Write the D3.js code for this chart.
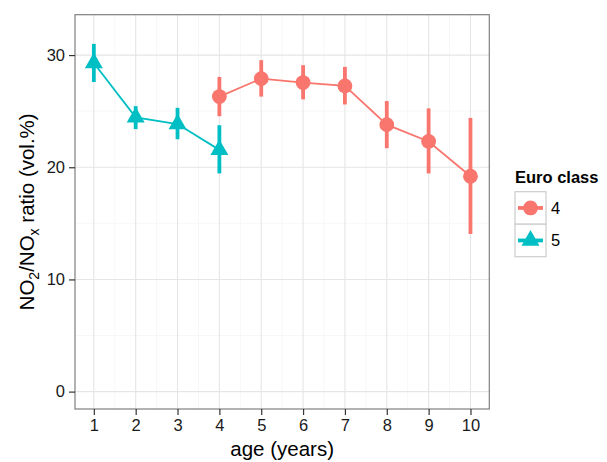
<!DOCTYPE html>
<html>
<head>
<meta charset="utf-8">
<script src="https://cdn.jsdelivr.net/npm/d3@7"></script>
<style>
  body { margin: 0; background: #fff; }
  text { font-family: "Liberation Sans", Arial, sans-serif; }
</style>
</head>
<body>
<svg width="607" height="462"></svg>
<script>
// Euro class 4 (circles)
var ages4 = [4, 5, 6, 7, 8, 9, 10];
var mean4 = [26.3, 27.9, 27.55, 27.25, 23.8, 22.3, 19.2];
var lo4 = [24.55, 26.3, 26.05, 25.6, 21.7, 19.45, 14.05];
var hi4 = [28.05, 29.55, 29.1, 28.95, 25.9, 25.25, 24.4];
// Euro class 5 (triangles)
var ages5 = [1, 2, 3, 4];
var mean5 = [29.3, 24.45, 23.85, 21.55];
var lo5 = [27.6, 23.4, 22.5, 19.45];
var hi5 = [31.0, 25.45, 25.3, 23.75];

var xTicks = [1, 2, 3, 4, 5, 6, 7, 8, 9, 10];
var yTicks = [0, 10, 20, 30];
var yMinor = [5, 15, 25];
var classes = ['4', '5'];
var colors = ['#F8766D', '#00BFC4'];

function makeSeries(ages, mean, lo, hi) {
  var out = [];
  for (var i = 0; i < ages.length; i++) {
    out.push({ age: ages[i], mean: mean[i], lo: lo[i], hi: hi[i] });
  }
  return out;
}
var series = [
  { name: '4', shape: 'circle', color: colors[0], data: makeSeries(ages4, mean4, lo4, hi4) },
  { name: '5', shape: 'triangle', color: colors[1], data: makeSeries(ages5, mean5, lo5, hi5) }
];

var pLeft = 75, pRight = 489.3, pTop = 14.7, pBottom = 409;
var svg = d3.select('svg');

var x = d3.scaleLinear().domain([0.55, 10.45]).range([pLeft, pRight]);
var y = d3.scaleLinear().domain([-1.55, 33.6]).range([pBottom, pTop]);

// panel background + grid
var grid = svg.append('g');
grid.append('rect')
  .attr('x', pLeft).attr('y', pTop)
  .attr('width', pRight - pLeft).attr('height', pBottom - pTop)
  .attr('fill', '#fff');

var xMinor = xTicks.slice(0, -1).map(function (d) { return d + 0.5; });
grid.selectAll('.xminor').data(xMinor).enter().append('line')
  .attr('x1', function (d) { return x(d); }).attr('x2', function (d) { return x(d); })
  .attr('y1', pTop).attr('y2', pBottom)
  .attr('stroke', '#f7f7f7').attr('stroke-width', 1);
grid.selectAll('.yminor').data(yMinor).enter().append('line')
  .attr('y1', function (d) { return y(d); }).attr('y2', function (d) { return y(d); })
  .attr('x1', pLeft).attr('x2', pRight)
  .attr('stroke', '#f7f7f7').attr('stroke-width', 1);
grid.selectAll('.xmajor').data(xTicks).enter().append('line')
  .attr('x1', function (d) { return x(d); }).attr('x2', function (d) { return x(d); })
  .attr('y1', pTop).attr('y2', pBottom)
  .attr('stroke', '#e5e5e5').attr('stroke-width', 1.1);
grid.selectAll('.ymajor').data(yTicks).enter().append('line')
  .attr('y1', function (d) { return y(d); }).attr('y2', function (d) { return y(d); })
  .attr('x1', pLeft).attr('x2', pRight)
  .attr('stroke', '#e5e5e5').attr('stroke-width', 1.1);

// data
var line = d3.line()
  .x(function (d) { return x(d.age); })
  .y(function (d) { return y(d.mean); });

function triPath(cx, cy, w) {
  var h = w * Math.sqrt(3) / 2;
  return 'M' + cx + ',' + (cy - 2 * h / 3) +
    'L' + (cx + w / 2) + ',' + (cy + h / 3) +
    'L' + (cx - w / 2) + ',' + (cy + h / 3) + 'Z';
}

series.forEach(function (s) {
  var g = svg.append('g');
  g.append('path')
    .datum(s.data)
    .attr('d', line)
    .attr('fill', 'none')
    .attr('stroke', s.color)
    .attr('stroke-width', 1.8);
  g.selectAll('.err').data(s.data).enter().append('line')
    .attr('x1', function (d) { return x(d.age); })
    .attr('x2', function (d) { return x(d.age); })
    .attr('y1', function (d) { return y(d.lo); })
    .attr('y2', function (d) { return y(d.hi); })
    .attr('stroke', s.color)
    .attr('stroke-width', 3.8);
  if (s.shape === 'circle') {
    g.selectAll('.pt').data(s.data).enter().append('circle')
      .attr('cx', function (d) { return x(d.age); })
      .attr('cy', function (d) { return y(d.mean); })
      .attr('r', 7.4)
      .attr('fill', s.color);
  } else {
    g.selectAll('.pt').data(s.data).enter().append('path')
      .attr('d', function (d) { return triPath(x(d.age), y(d.mean), 18); })
      .attr('fill', s.color);
  }
});

// panel border
svg.append('rect')
  .attr('x', pLeft).attr('y', pTop)
  .attr('width', pRight - pLeft).attr('height', pBottom - pTop)
  .attr('fill', 'none')
  .attr('stroke', '#7f7f7f')
  .attr('stroke-width', 1.2);

// axes
var xAxis = svg.append('g')
  .attr('transform', 'translate(0,' + pBottom + ')')
  .call(d3.axisBottom(x).tickValues(xTicks).tickSize(6).tickPadding(4).tickFormat(d3.format('d')));
var yAxis = svg.append('g')
  .attr('transform', 'translate(' + pLeft + ',0)')
  .call(d3.axisLeft(y).tickValues(yTicks).tickSize(6).tickPadding(4).tickFormat(d3.format('d')));
[xAxis, yAxis].forEach(function (a) {
  a.select('.domain').remove();
  a.selectAll('.tick line').attr('stroke', '#333').attr('stroke-width', 1.2);
  a.selectAll('.tick text')
    .attr('fill', '#1a1a1a')
    .style('font-size', '16.5px')
    .style('font-family', '"Liberation Sans", Arial, sans-serif');
});

// axis titles
svg.append('text')
  .attr('x', (pLeft + pRight) / 2)
  .attr('y', 456)
  .attr('text-anchor', 'middle')
  .style('font-size', '20.5px')
  .attr('fill', '#000')
  .text('age (years)');

var yt = svg.append('text')
  .attr('transform', 'translate(34,' + ((pTop + pBottom) / 2) + ') rotate(-90)')
  .attr('text-anchor', 'middle')
  .style('font-size', '20.5px')
  .attr('fill', '#000');
yt.append('tspan').text('NO');
yt.append('tspan').attr('dy', 5).style('font-size', '14px').text('2');
yt.append('tspan').attr('dy', -5).text('/NO');
yt.append('tspan').attr('dy', 5).style('font-size', '14px').text('x');
yt.append('tspan').attr('dy', -5).text(' ratio (vol.%)');

// legend
var lg = svg.append('g').attr('transform', 'translate(515,0)');
lg.append('text')
  .attr('x', 0).attr('y', 183)
  .style('font-size', '16.5px')
  .style('font-weight', 'bold')
  .text('Euro class');
var keyH = 32.5, keyW = 31, keyTop = 191.7;
series.forEach(function (s, i) {
  var ky = keyTop + i * keyH;
  var k = lg.append('g');
  k.append('rect')
    .attr('x', 0).attr('y', ky)
    .attr('width', keyW).attr('height', keyH)
    .attr('fill', '#fff')
    .attr('stroke', '#cccccc')
    .attr('stroke-width', 1.2);
  var cy = ky + keyH / 2;
  k.append('line')
    .attr('x1', 3).attr('x2', keyW - 3)
    .attr('y1', cy).attr('y2', cy)
    .attr('stroke', s.color).attr('stroke-width', 3.8);
  if (s.shape === 'circle') {
    k.append('circle').attr('cx', keyW / 2).attr('cy', cy).attr('r', 7.4).attr('fill', s.color);
  } else {
    k.append('path').attr('d', triPath(keyW / 2, cy, 18)).attr('fill', s.color);
  }
  k.append('text')
    .attr('x', keyW + 5).attr('y', cy + 6)
    .style('font-size', '16.5px')
    .text(classes[i]);
});
</script>
</body>
</html>
